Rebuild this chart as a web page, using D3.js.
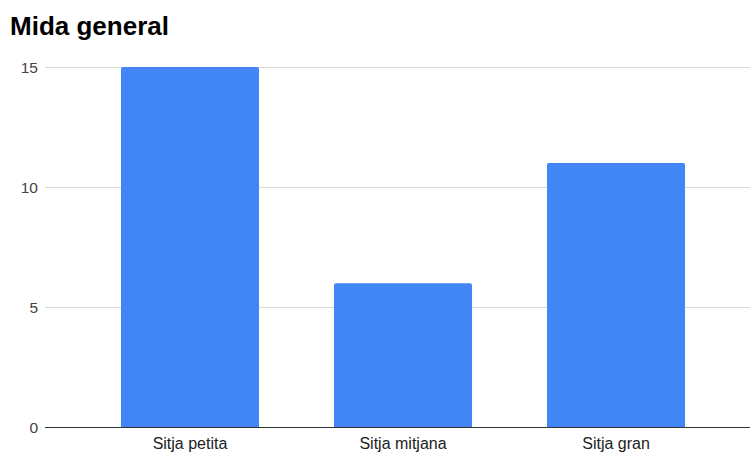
<!DOCTYPE html>
<html><head><meta charset="utf-8">
<script src="https://cdn.jsdelivr.net/npm/d3@7"></script>
<style>body{margin:0;background:#fff}svg{display:block}</style>
</head><body><svg id="c" width="750" height="453"></svg>
<script>
const categories = ["Sitja petita", "Sitja mitjana", "Sitja gran"];
const values = [15, 6, 11];
const yTicks = [0, 5, 10, 15];
const title = "Mida general";

const svg = d3.select("#c");
const font = "'Liberation Sans', Arial, sans-serif";
const x = d3.scaleBand().domain(categories).range([83.5, 722.5]).paddingInner(0.352).paddingOuter(0.176);
const y = d3.scaleLinear().domain([0, 15]).range([427.3, 67]);

svg.append("text").attr("x", 10).attr("y", 35).text(title)
  .attr("font-family", font).attr("font-weight", "bold").attr("font-size", 26).attr("fill", "#000");

const yAxis = d3.axisLeft(y).tickValues(yTicks).tickSize(0).tickPadding(0);
const gy = svg.append("g").attr("transform", "translate(38,0)").call(yAxis);
gy.select(".domain").remove();
gy.selectAll("text").attr("font-family", font).attr("font-size", 15.5).attr("fill", "#444").attr("x", 0).attr("dy", "0.35em");

svg.append("g").selectAll("line").data(yTicks.filter(d => d > 0)).join("line")
  .attr("x1", 45).attr("x2", 750).attr("y1", d => Math.round(y(d)) + 0.5).attr("y2", d => Math.round(y(d)) + 0.5)
  .attr("stroke", "#d9d9d9").attr("stroke-width", 1);

svg.append("g").selectAll("path").data(values).join("path")
  .attr("d", (d, i) => {
    const x0 = x(categories[i]), w = x.bandwidth(), y0 = y(d), y1 = y(0), r = 2;
    return `M${x0},${y1}V${y0 + r}Q${x0},${y0} ${x0 + r},${y0}H${x0 + w - r}Q${x0 + w},${y0} ${x0 + w},${y0 + r}V${y1}Z`;
  })
  .attr("fill", "#4285f4");

svg.append("line").attr("x1", 45).attr("x2", 750).attr("y1", 427.5).attr("y2", 427.5)
  .attr("stroke", "#333").attr("stroke-width", 1.2);

const xAxis = d3.axisBottom(x).tickSize(0).tickPadding(0);
const gx = svg.append("g").attr("transform", "translate(0,449)").call(xAxis);
gx.select(".domain").remove();
gx.selectAll("text").attr("font-family", font).attr("font-size", 16).attr("fill", "#222").attr("y", 0).attr("dy", "0");
</script></body></html>
